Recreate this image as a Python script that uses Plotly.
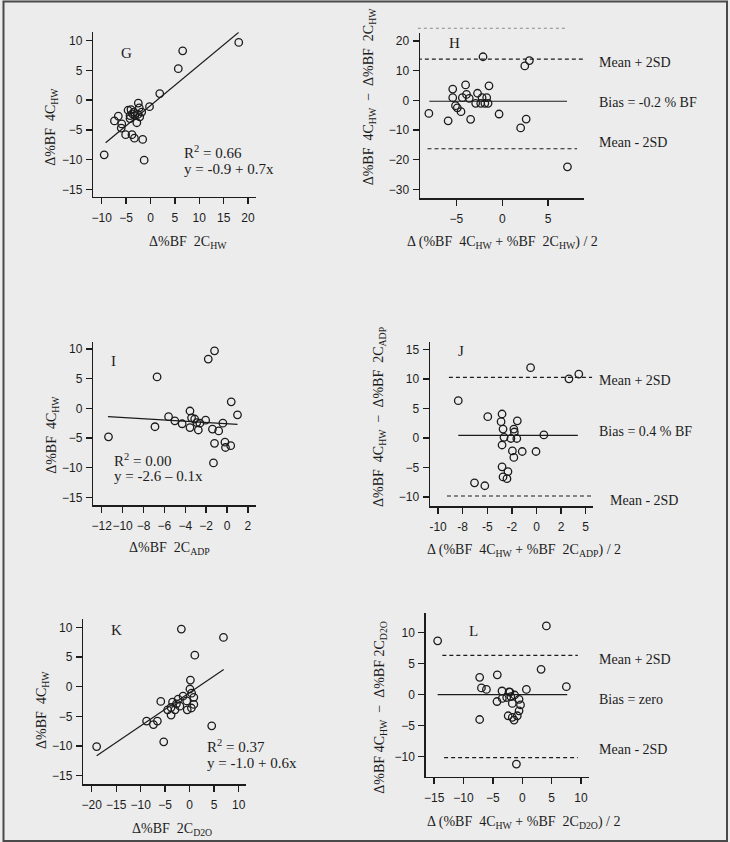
import plotly.graph_objects as go

W, H = 730, 842
INK = "#1c1c1c"
BG = "#ececec"
SERIF = "Liberation Serif"
SANS = "Liberation Sans"

# ---------------- data ----------------
# G : Δ%BF 2C_HW vs Δ%BF 4C_HW
g_x = [18.1, 6.6, 5.7, 1.9, -0.2, -2.5, -2.3, -1.8, -2.6, -3.4, -4.0, -4.6, -4.2, -4.2,
       -3.2, -2.8, -6.6, -7.4, -5.9, -6.0, -5.1, -3.8, -3.3, -1.6, -9.5, -1.3, -2.2, -3.7]
g_y = [9.7, 8.3, 5.3, 1.1, -1.1, -0.5, -1.3, -2.0, -2.4, -2.0, -1.6, -1.7, -2.6, -3.1,
       -2.6, -3.8, -2.7, -3.5, -4.0, -4.7, -5.8, -5.8, -6.4, -6.6, -9.2, -10.1, -2.8, -2.3]
g_fit = {"a": -0.9, "b": 0.68, "x0": -9.2, "x1": 18.1}

# H : Bland-Altman 4C_HW vs 2C_HW
h_x = [-2.1, 2.95, 2.45, -4.0, -1.45, -5.4, -3.9, -2.7, -5.4, -4.35, -3.6, -2.2, -1.7, -2.9,
       -2.35, -1.9, -1.55, -5.1, -4.9, -8.0, -4.5, -0.35, -5.9, -3.45, 2.6, 2.0, 7.1]
h_y = [14.7, 13.4, 11.6, 5.2, 4.9, 3.8, 2.0, 2.4, 0.9, 0.9, 0.7, 0.9, 0.9, -1.0,
       -1.0, -1.0, -1.0, -1.8, -2.5, -4.4, -3.8, -4.6, -6.9, -6.4, -6.3, -9.3, -22.4]
h_limits = {"upper": 13.9, "bias": -0.3, "lower": -16.3, "extra": 24.3}
h_spans = {"upper": (-9.2, 8.9), "bias": (-7.95, 7.05), "lower": (-8.15, 8.15), "extra": (-9.2, 7.05)}

# I : Δ%BF 2C_ADP vs Δ%BF 4C_HW
i_x = [-11.35, -6.9, -6.7, -1.8, -1.2, -5.6, -5.0, -4.3, -3.55, -3.4, -3.1, -2.9, -3.55,
       -2.75, -2.6, -2.05, -1.4, -0.8, -0.4, 0.4, 1.0, -1.2, -0.2, -0.15, 0.35, -1.3]
i_y = [-4.8, -3.1, 5.3, 8.3, 9.7, -1.4, -2.1, -2.6, -0.45, -1.6, -1.8, -2.4, -3.25,
       -3.65, -2.5, -2.0, -3.5, -3.8, -2.5, 1.1, -1.1, -5.9, -5.7, -6.6, -6.3, -9.2]
i_fit = {"a": -2.6, "b": -0.105, "x0": -11.4, "x1": 1.0}

# J : Bland-Altman 4C_HW vs 2C_ADP
j_x = [-0.6, 3.3, 4.3, -7.95, -4.95, -3.5, -3.6, -1.95, -3.4, -2.3, -2.25, -3.3, -2.6,
       -2.0, 0.75, -3.5, -2.45, -1.45, -0.05, -2.3, -3.5, -2.9, -3.4, -3.0, -6.3, -5.25]
j_y = [11.9, 10.0, 10.8, 6.3, 3.6, 4.05, 2.75, 2.9, 1.5, 1.5, 1.0, 0.1, -0.1,
       -0.1, 0.5, -1.2, -2.2, -2.3, -2.3, -3.3, -4.9, -5.7, -6.6, -6.9, -7.6, -8.1]
j_limits = {"upper": 10.26, "bias": 0.44, "lower": -9.84}
j_spans = {"upper": (-8.9, 5.65), "bias": (-7.95, 4.2), "lower": (-9.1, 5.65)}
j_tickvals = [-10, -7.5, -5, -2.5, 0, 2.5, 5]
j_ticktext = ["-10", "-8", "-5", "-2", "0", "2", "5"]

# K : Δ%BF 2C_D2O vs Δ%BF 4C_HW
k_x = [-1.7, 6.9, 1.05, -19.0, -5.3, 4.5, -5.9, -8.8, -7.4, -6.6, -3.8, 0.15, 0.05, 0.4,
       0.85, -1.35, -2.35, -3.5, -0.6, 0.85, -2.0, -3.8, -3.0, -0.5, 0.35, -2.7, -4.5]
k_y = [9.7, 8.3, 5.3, -10.1, -9.3, -6.6, -2.5, -5.8, -6.4, -5.8, -4.8, 1.1, -0.4, -1.1,
       -1.8, -1.6, -2.1, -2.6, -2.4, -3.0, -3.3, -3.5, -3.9, -3.9, -3.6, -2.9, -3.9]
k_fit = {"a": -1.0, "b": 0.56, "x0": -19.0, "x1": 6.95}

# L : Bland-Altman 4C_HW vs 2C_D2O
l_x = [-14.4, 4.1, 3.2, 7.5, 0.7, -7.25, -4.25, -6.95, -6.1, -7.25, -1.0, -4.3, -3.45,
       -2.25, -3.4, -2.65, -1.95, -1.3, -1.7, -0.55, -0.3, -0.55, -2.4, -1.7, -1.4, -0.85, -2.1]
l_y = [8.7, 11.1, 4.1, 1.3, 0.85, 2.8, 3.2, 1.1, 0.85, -4.0, -11.2, -1.1, 0.6,
       0.45, -0.6, -0.45, -0.3, -0.05, -1.4, -0.75, -1.65, -2.6, -3.4, -3.65, -4.1, -3.4, 0.4]
l_limits = {"upper": 6.34, "bias": 0.0, "lower": -10.16}
l_spans = {"upper": (-13.6, 9.45), "bias": (-14.4, 7.65), "lower": (-13.3, 9.45)}

# ---------------- layout geometry (pixels) ----------------
def xd(p0, p1):
    return [p0 / W, p1 / W]

def yd(top, bottom):
    return [1 - bottom / H, 1 - top / H]

panels = {
    1: dict(xdom=xd(91.7, 255.0), ydom=yd(32.3, 196.7), xr=[-11.7, 21.7], yr=[-16.24, 11.41],
            xt=dict(dtick=5, tick0=0), yt=dict(dtick=5, tick0=0)),
    2: dict(xdom=xd(419.3, 583.3), ydom=yd(33.3, 198.3), xr=[-8.95, 8.87], yr=[-33.0, 22.6],
            xt=dict(dtick=5, tick0=0), yt=dict(dtick=10, tick0=0)),
    3: dict(xdom=xd(91.7, 255.0), ydom=yd(341.7, 505.0), xr=[-12.79, 2.8], yr=[-16.29, 11.23],
            xt=dict(dtick=2, tick0=0), yt=dict(dtick=5, tick0=0)),
    4: dict(xdom=xd(429.3, 592.7), ydom=yd(341.7, 506.0), xr=[-10.81, 5.75], yr=[-11.53, 16.29],
            xt=dict(tickmode="array", tickvals=j_tickvals, ticktext=j_ticktext), yt=dict(dtick=5, tick0=0)),
    5: dict(xdom=xd(81.7, 245.0), ydom=yd(619.3, 784.0), xr=[-21.69, 11.57], yr=[-16.41, 11.35],
            xt=dict(dtick=5, tick0=0), yt=dict(dtick=5, tick0=0)),
    6: dict(xdom=xd(425.0, 588.3), ydom=yd(612.7, 776.7), xr=[-16.41, 11.3], yr=[-13.23, 13.23],
            xt=dict(dtick=5, tick0=0), yt=dict(dtick=5, tick0=0)),
}

fig = go.Figure()

def ax_names(n):
    s = "" if n == 1 else str(n)
    return "x" + s, "y" + s

marker = dict(symbol="circle-open", size=7.5, color=INK, line=dict(width=1.3, color=INK))

def scatter(n, xs, ys):
    xa, ya = ax_names(n)
    fig.add_trace(go.Scatter(x=xs, y=ys, mode="markers", marker=marker, xaxis=xa, yaxis=ya,
                             showlegend=False, hoverinfo="skip"))

def line(n, x0, x1, y0, y1, dash="solid", width=1.2, color=INK):
    xa, ya = ax_names(n)
    fig.add_trace(go.Scatter(x=[x0, x1], y=[y0, y1], mode="lines",
                             line=dict(color=color, width=width, dash=dash),
                             xaxis=xa, yaxis=ya, showlegend=False, hoverinfo="skip"))

def fit(n, f):
    line(n, f["x0"], f["x1"], f["a"] + f["b"] * f["x0"], f["a"] + f["b"] * f["x1"])

def limits(n, lim, spans):
    for key in ("upper", "bias", "lower"):
        x0, x1 = spans[key]
        line(n, x0, x1, lim[key], lim[key],
             dash="solid" if key == "bias" else "4px,3px", width=1.2)

scatter(1, g_x, g_y); fit(1, g_fit)
scatter(2, h_x, h_y); limits(2, h_limits, h_spans)
scatter(3, i_x, i_y); fit(3, i_fit)
scatter(4, j_x, j_y); limits(4, j_limits, j_spans)
scatter(5, k_x, k_y); fit(5, k_fit)
scatter(6, l_x, l_y); limits(6, l_limits, l_spans)

layout = dict(width=W, height=H, margin=dict(l=0, r=0, t=0, b=0),
              paper_bgcolor=BG, plot_bgcolor=BG, showlegend=False)

for n, p in panels.items():
    s = "" if n == 1 else str(n)
    common = dict(showgrid=False, zeroline=False, showline=True, linecolor=INK, linewidth=1.6,
                  ticks="outside", ticklen=6, tickwidth=1.4, tickcolor=INK, tickangle=0,
                  tickfont=dict(family=SANS, size=12, color=INK), fixedrange=True)
    xa = dict(common, domain=p["xdom"], range=p["xr"], anchor="y" + s, ticklabelstandoff=3, **p["xt"])
    ya = dict(common, domain=p["ydom"], range=p["yr"], anchor="x" + s, ticklabelstandoff=1, **p["yt"])
    layout["xaxis" + s] = xa
    layout["yaxis" + s] = ya

fig.update_layout(**layout)

# gray dashed line above panel H's axis (outside the y-range), in axis-domain units
hy0, hy1 = panels[2]["yr"]
hx0, hx1 = panels[2]["xr"]
ex = h_spans["extra"]
fig.add_shape(type="line", xref="x2 domain", yref="y2 domain",
              x0=(ex[0] - hx0) / (hx1 - hx0), x1=(ex[1] - hx0) / (hx1 - hx0),
              y0=(h_limits["extra"] - hy0) / (hy1 - hy0), y1=(h_limits["extra"] - hy0) / (hy1 - hy0),
              line=dict(color="#8a8a8a", width=1, dash="3px,3px"))

# outer frame
fig.add_shape(type="rect", xref="paper", yref="paper", x0=1.5 / W, x1=727 / W, y0=1 - 841 / H, y1=1 - 1.5 / H,
              line=dict(color="#4a4a4a", width=2))

def txt(text, x, y, size=14, xanchor="left", angle=0):
    fig.add_annotation(text=text, x=x / W, y=1 - y / H, xref="paper", yref="paper",
                       xanchor=xanchor, yanchor="middle", showarrow=False, textangle=angle,
                       font=dict(family=SERIF, size=size, color=INK))

HW = "<sub>HW</sub>"
# G
txt("G", 125, 52.5, 15, "center")
txt("R<sup>2</sup> = 0.66", 180, 152, 15)
txt("y = -0.9 + 0.7x", 180, 168.5, 15)
txt("Δ%BF  2C" + HW, 187, 243, 14, "center")
txt("Δ%BF  4C" + HW, 50, 127, 14, "center", -90)
# H
txt("H", 453.3, 43.3, 15, "center")
txt("Mean + 2SD", 597, 62.5)
txt("Bias = -0.2 % BF", 597, 102.5)
txt("Mean - 2SD", 597, 142.5)
txt("Δ (%BF  4C" + HW + " + %BF  2C" + HW + ") / 2", 502, 242, 14, "center")
txt("Δ%BF  4C" + HW + "  −  Δ%BF  2C" + HW, 368.3, 96, 14, "center", -90)
# I
txt("I", 112.3, 360.7, 15, "center")
txt("R<sup>2</sup> = 0.00", 110, 460, 15)
txt("y = -2.6 – 0.1x", 110, 476, 15)
txt("Δ%BF  2C<sub>ADP</sub>", 168.3, 548.3, 14, "center")
txt("Δ%BF  4C" + HW, 50, 435, 14, "center", -90)
# J
txt("J", 460, 350.7, 15, "center")
txt("Mean + 2SD", 597, 380.7)
txt("Bias = 0.4 % BF", 597, 431.7)
txt("Mean - 2SD", 607.3, 500)
txt("Δ (%BF  4C" + HW + " + %BF  2C<sub>ADP</sub>) / 2", 523.3, 550, 14, "center")
txt("Δ%BF  4C" + HW + "  −  Δ%BF  2C<sub>ADP</sub>", 378.3, 416.7, 14, "center", -90)
# K
txt("K", 115, 630, 15, "center")
txt("R<sup>2</sup> = 0.37", 204, 746, 15)
txt("y = -1.0 + 0.6x", 204, 763.3, 15)
txt("Δ%BF  2C<sub>D2O</sub>", 170, 829.3, 14, "center")
txt("Δ%BF  4C" + HW, 40, 710, 14, "center", -90)
# L
txt("L", 472.7, 631, 15, "center")
txt("Mean + 2SD", 597, 659.3)
txt("Bias = zero", 597, 699)
txt("Mean - 2SD", 597, 749)
txt("Δ (%BF  4C" + HW + " + %BF  2C<sub>D2O</sub>) / 2", 523.3, 822.3, 14, "center")
txt("Δ%BF 4C" + HW + "  −  Δ%BF 2C<sub>D2O</sub>", 380, 706.7, 14, "center", -90)

fig.write_html("out.html", config={"displayModeBar": False, "staticPlot": True},
               post_script="document.body.style.margin='0';document.body.style.overflow='hidden';")
